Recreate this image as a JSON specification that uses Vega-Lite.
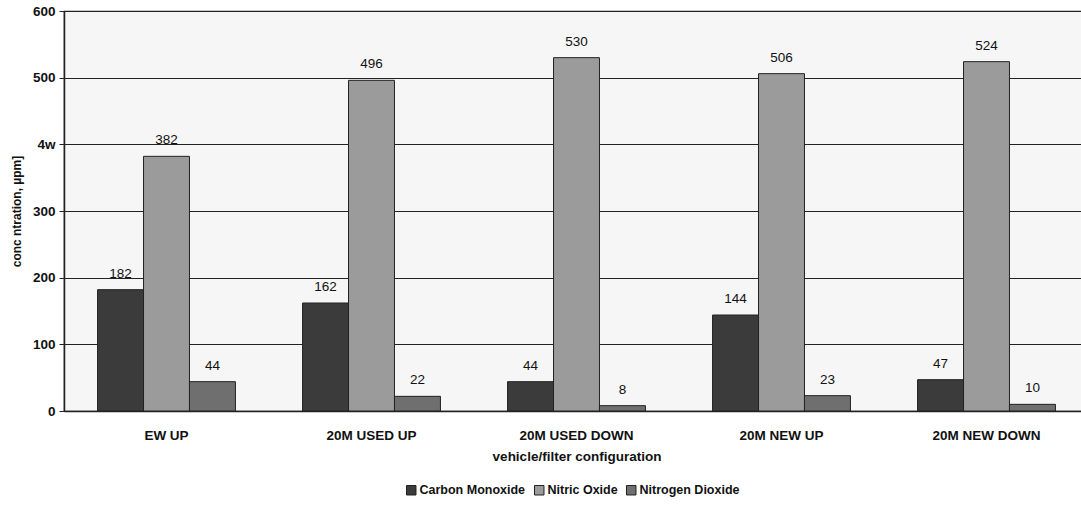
{
  "$schema": "https://vega.github.io/schema/vega-lite/v6.json",
  "autosize": "none",
  "width": 1025,
  "height": 400,
  "padding": {"left": 64, "top": 11, "right": 0, "bottom": 105},
  "background": "white",
  "config": {
    "font": "Liberation Sans",
    "view": {"fill": "#f6f6f6", "stroke": "#222", "strokeWidth": 1.2}
  },
  "data": {
    "values": [
      {"config": "EW UP", "gas": "Carbon Monoxide", "ppm": 182},
      {"config": "EW UP", "gas": "Nitric Oxide", "ppm": 382},
      {"config": "EW UP", "gas": "Nitrogen Dioxide", "ppm": 44},
      {"config": "20M USED UP", "gas": "Carbon Monoxide", "ppm": 162},
      {"config": "20M USED UP", "gas": "Nitric Oxide", "ppm": 496},
      {"config": "20M USED UP", "gas": "Nitrogen Dioxide", "ppm": 22},
      {"config": "20M USED DOWN", "gas": "Carbon Monoxide", "ppm": 44},
      {"config": "20M USED DOWN", "gas": "Nitric Oxide", "ppm": 530},
      {"config": "20M USED DOWN", "gas": "Nitrogen Dioxide", "ppm": 8},
      {"config": "20M NEW UP", "gas": "Carbon Monoxide", "ppm": 144},
      {"config": "20M NEW UP", "gas": "Nitric Oxide", "ppm": 506},
      {"config": "20M NEW UP", "gas": "Nitrogen Dioxide", "ppm": 23},
      {"config": "20M NEW DOWN", "gas": "Carbon Monoxide", "ppm": 47},
      {"config": "20M NEW DOWN", "gas": "Nitric Oxide", "ppm": 524},
      {"config": "20M NEW DOWN", "gas": "Nitrogen Dioxide", "ppm": 10}
    ]
  },
  "encoding": {
    "x": {
      "field": "config",
      "type": "nominal",
      "sort": null,
      "scale": {"paddingInner": 0, "paddingOuter": 0},
      "axis": {
        "title": "vehicle/filter configuration",
        "titleFontSize": 13.5,
        "titleFontWeight": "bold",
        "titleColor": "#111",
        "titlePadding": 8,
        "labelAngle": 0,
        "labelFontSize": 13.5,
        "labelFontWeight": "bold",
        "labelColor": "#111",
        "labelPadding": 17,
        "ticks": false,
        "domain": true,
        "domainColor": "#222",
        "domainWidth": 1.5
      }
    },
    "xOffset": {
      "field": "gas",
      "type": "nominal",
      "scale": {"paddingOuter": 0.73, "paddingInner": 0}
    },
    "y": {
      "field": "ppm",
      "type": "quantitative",
      "scale": {"domain": [0, 600], "nice": false},
      "axis": {
        "title": "conc ntration, µpm]",
        "titleFontSize": 12,
        "titleFontWeight": "bold",
        "titleColor": "#111",
        "titlePadding": 9,
        "values": [0, 100, 200, 300, 400, 500, 600],
        "labelExpr": "datum.value == 400 ? '4w' : datum.label",
        "labelFontSize": 13.5,
        "labelFontWeight": "bold",
        "labelColor": "#111",
        "labelPadding": 4,
        "tickSize": 5,
        "tickColor": "#222",
        "domainColor": "#222",
        "domainWidth": 1.5,
        "grid": true,
        "gridColor": "#222",
        "gridWidth": 1.2
      }
    }
  },
  "layer": [
    {
      "mark": {"type": "bar", "stroke": "#222", "strokeWidth": 1},
      "encoding": {
        "color": {
          "field": "gas",
          "type": "nominal",
          "scale": {
            "domain": ["Carbon Monoxide", "Nitric Oxide", "Nitrogen Dioxide"],
            "range": ["#3b3b3b", "#9b9b9b", "#6f6f6f"]
          },
          "legend": {
            "title": null,
            "orient": "none",
            "direction": "horizontal",
            "legendX": 341,
            "legendY": 473,
            "symbolType": "square",
            "symbolSize": 90,
            "symbolStrokeColor": "#222",
            "symbolStrokeWidth": 1,
            "labelFontSize": 12.5,
            "labelFontWeight": "bold",
            "labelColor": "#111",
            "columnPadding": 6,
            "labelOffset": 2
          }
        }
      }
    },
    {
      "mark": {"type": "text", "dy": -9, "fontSize": 13.5, "color": "#111", "baseline": "bottom"},
      "encoding": {
        "text": {"field": "ppm", "type": "quantitative"}
      }
    }
  ]
}
